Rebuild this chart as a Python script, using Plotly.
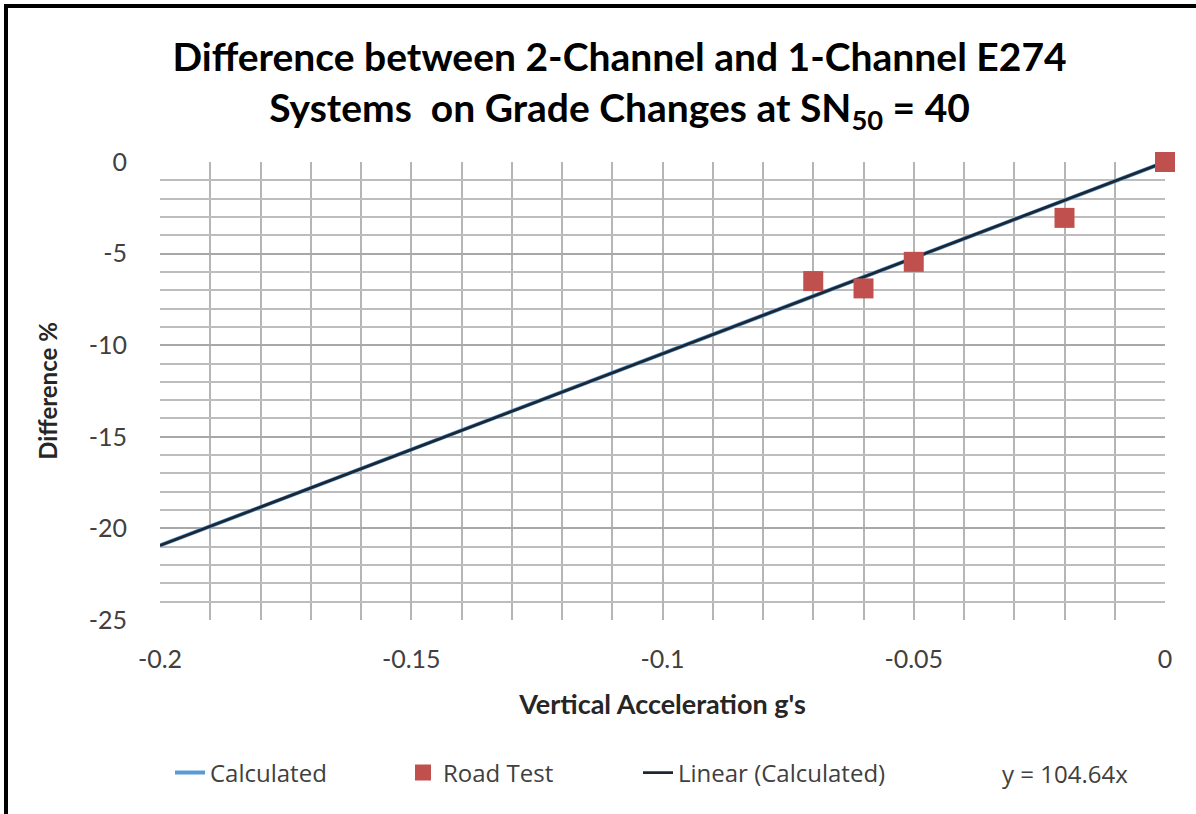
import plotly.graph_objects as go

# Data
calc_x = [-0.2, -0.15, -0.1, -0.05, 0.0]
calc_y = [-20.93, -15.70, -10.46, -5.23, 0.0]
road_x = [-0.07, -0.06, -0.05, -0.02, 0.0]
road_y = [-6.5, -6.9, -5.45, -3.05, 0.0]
trend_x = [-0.2, 0.0]
trend_y = [-20.93, 0.0]
x_ticks = [-0.2, -0.15, -0.1, -0.05, 0]
x_tick_text = ["-0.2", "-0.15", "-0.1", "-0.05", "0"]
y_ticks = [0, -5, -10, -15, -20, -25]
y_tick_text = ["0", "-5", "-10", "-15", "-20", "-25"]
equation = "y = 104.64x"

FONT = "Lato"
LFONT = "Open Sans"
TXT = "#404040"

fig = go.Figure()
fig.add_trace(go.Scatter(x=calc_x, y=calc_y, mode="lines", name="Calculated",
                         line=dict(color="#5b9bd5", width=4), legend="legend"))
fig.add_trace(go.Scatter(x=trend_x, y=trend_y, mode="lines", name="Linear (Calculated)",
                         line=dict(color="#1c2733", width=2.8), legend="legend3"))
fig.add_trace(go.Scatter(x=road_x, y=road_y, mode="markers", name="Road Test",
                         marker=dict(symbol="square", size=20, color="#c0504d"),
                         legend="legend2", cliponaxis=False))

L, R, T, B = 160, 31, 162, 194
W, H = 1196, 814
pw, ph = W - L - R, H - T - B

def px(xp):
    return (xp - L) / pw

def py(yp):
    return 1 - (yp - T) / ph

leg_common = dict(orientation="h", yanchor="middle", xanchor="left",
                  font=dict(family=LFONT, size=24, color=TXT),
                  bgcolor="rgba(0,0,0,0)")

fig.update_layout(
    width=W, height=H,
    margin=dict(l=L, r=R, t=T, b=B),
    paper_bgcolor="white", plot_bgcolor="white",
    title=dict(text="<b>Difference between 2-Channel and 1-Channel E274<br>Systems  on Grade Changes at SN<sub>50</sub> = 40</b>",
               x=0.518, xanchor="center", y=0.913, yanchor="middle",
               font=dict(family=FONT, size=39, color="black")),
    xaxis=dict(range=[-0.2, 0], tickvals=x_ticks, ticktext=x_tick_text,
               showgrid=True, gridcolor="#b5b5b5", gridwidth=2,
               minor=dict(dtick=0.01, showgrid=True, gridcolor="#b5b5b5", gridwidth=2),
               zeroline=False, showline=False, ticks="", ticklen=0,
               ticklabelstandoff=22,
               tickfont=dict(family=FONT, size=25, color=TXT),
               title=dict(text="<b>Vertical Acceleration g's</b>", standoff=23,
                          font=dict(family=FONT, size=27, color="#262626"))),
    yaxis=dict(range=[-25, 0], tickvals=y_ticks, ticktext=y_tick_text,
               showgrid=True, gridcolor="#a8a8a8", gridwidth=2,
               minor=dict(dtick=1, showgrid=True, gridcolor="#bdbdbd", gridwidth=2),
               zeroline=False, showline=False, ticks="", ticklen=0,
               ticklabelstandoff=32,
               tickfont=dict(family=FONT, size=25, color=TXT),
               title=dict(text="<b>Difference %</b>", standoff=24,
                          font=dict(family=FONT, size=24, color="#262626"))),
    legend=dict(x=px(170), y=py(773), **leg_common),
    legend2=dict(x=px(403), y=py(773), **leg_common),
    legend3=dict(x=px(638), y=py(773), **leg_common),
    showlegend=True,
    shapes=[
        dict(type="line", xref="paper", yref="paper", x0=px(6), x1=px(6), y0=py(4), y1=py(H + 5),
             line=dict(color="black", width=4)),
        dict(type="line", xref="paper", yref="paper", x0=px(4), x1=px(W + 5), y0=py(6), y1=py(6),
             line=dict(color="black", width=4)),
    ],
    annotations=[
        dict(text=equation, xref="paper", yref="paper", x=px(1000), y=py(773),
             xanchor="left", yanchor="middle", showarrow=False,
             font=dict(family=LFONT, size=24, color=TXT)),
    ],
)

fig.write_html("out.html", config={"displayModeBar": False},
               post_script="document.body.style.margin='0';")
